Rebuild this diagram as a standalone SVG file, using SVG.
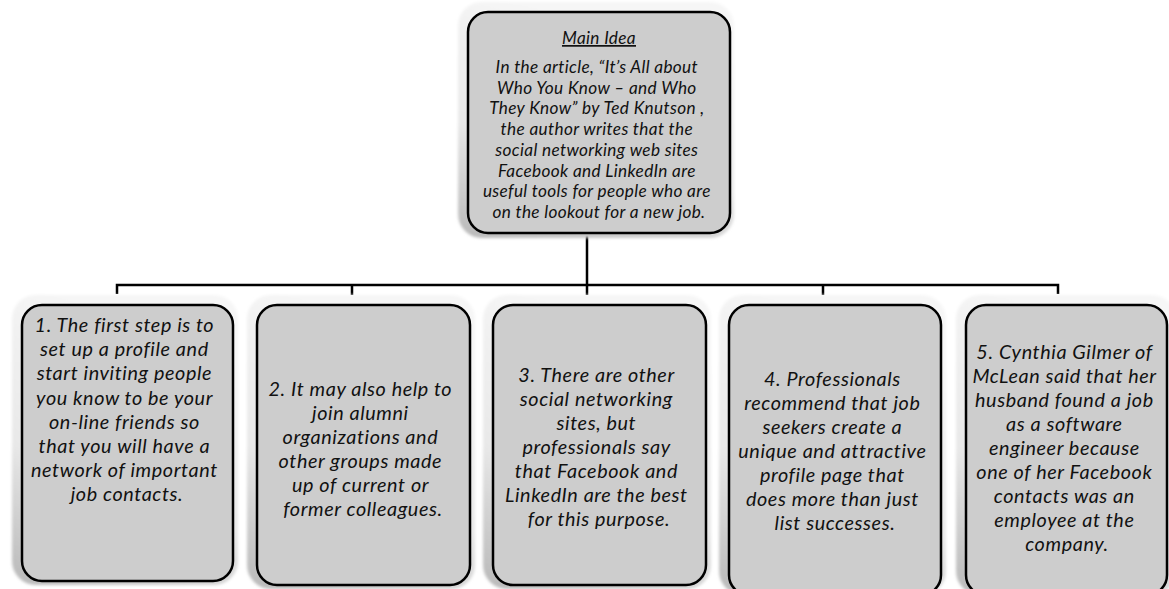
<svg xmlns="http://www.w3.org/2000/svg" width="1169" height="589" viewBox="0 0 1169 589">
  <style>
    .frame { fill: url(#frameGrad); filter: url(#soft); }
    .box { fill: #cdcdcd; stroke: #000; stroke-width: 2.5; }
    .txt { font-family: Lato, "Liberation Sans", sans-serif; font-style: italic; fill: #111; text-anchor: middle; }
    .main { font-size: 17.2px; letter-spacing: 0.35px; }
    .item { font-size: 19.8px; letter-spacing: 0.6px; }
    .wire { fill: none; stroke: #000; stroke-width: 2.5; }
  </style>
  <defs>
    <linearGradient id="frameGrad" x1="0.3" y1="0" x2="0" y2="1">
      <stop offset="0" stop-color="#f6f6f6"/>
      <stop offset="0.55" stop-color="#e8e8e8"/>
      <stop offset="1" stop-color="#b8b8b8"/>
    </linearGradient>
    <filter id="soft" x="-10%" y="-10%" width="120%" height="120%">
      <feGaussianBlur stdDeviation="1.5"/>
    </filter>
  </defs>
  <rect width="1169" height="589" fill="#fff"/>

  <!-- connectors -->
  <g id="connectors">
    <line x1="587" y1="222" x2="587" y2="233" stroke="#a8a8a8" stroke-width="2"/>
    <path class="wire" d="M587 233 V295 M117 294 V285 H1058 V294 M352 285 V295 M823 285 V295"/>
  </g>

  <!-- main idea -->
  <g id="main-idea">
    <rect class="frame" x="458" y="2" width="276" height="236" rx="24"/>
    <rect class="box" x="468" y="12" width="262" height="221" rx="20"/>
    <text class="txt main" x="599" y="44" text-decoration="underline">Main Idea</text>
    <text class="txt main">
      <tspan x="599" y="73">In the article, “It’s All about</tspan>
      <tspan x="599" y="94">Who You Know – and Who</tspan>
      <tspan x="599" y="114">They Know” by Ted Knutson ,</tspan>
      <tspan x="599" y="135">the author writes that the</tspan>
      <tspan x="599" y="156">social networking web sites</tspan>
      <tspan x="599" y="177">Facebook and LinkedIn are</tspan>
      <tspan x="599" y="197">useful tools for people who are</tspan>
      <tspan x="599" y="218">on the lookout for a new job.</tspan>
    </text>
  </g>

  <!-- detail 1 -->
  <g id="detail-1">
    <rect class="frame" x="12" y="295" width="226" height="290" rx="24"/>
    <rect class="box" x="22" y="305" width="211" height="276" rx="20"/>
    <text class="txt item">
      <tspan x="127" y="332">1. The first step is to</tspan>
      <tspan x="127" y="356">set up a profile and</tspan>
      <tspan x="127" y="380">start inviting people</tspan>
      <tspan x="127" y="405">you know to be your</tspan>
      <tspan x="127" y="429">on-line friends so</tspan>
      <tspan x="127" y="453">that you will have a</tspan>
      <tspan x="127" y="477">network of important</tspan>
      <tspan x="127" y="501">job contacts.</tspan>
    </text>
  </g>

  <!-- detail 2 -->
  <g id="detail-2">
    <rect class="frame" x="247" y="295" width="228" height="294" rx="24"/>
    <rect class="box" x="257" y="305" width="213" height="280" rx="20"/>
    <text class="txt item">
      <tspan x="363" y="396">2. It may also help to</tspan>
      <tspan x="363" y="420">join alumni</tspan>
      <tspan x="363" y="444">organizations and</tspan>
      <tspan x="363" y="468">other groups made</tspan>
      <tspan x="363" y="492">up of current or</tspan>
      <tspan x="363" y="516">former colleagues.</tspan>
    </text>
  </g>

  <!-- detail 3 -->
  <g id="detail-3">
    <rect class="frame" x="483" y="295" width="228" height="294" rx="24"/>
    <rect class="box" x="493" y="305" width="213" height="280" rx="20"/>
    <text class="txt item">
      <tspan x="599" y="382">3. There are other</tspan>
      <tspan x="599" y="406">social networking</tspan>
      <tspan x="599" y="430">sites, but</tspan>
      <tspan x="599" y="454">professionals say</tspan>
      <tspan x="599" y="478">that Facebook and</tspan>
      <tspan x="599" y="502">LinkedIn are the best</tspan>
      <tspan x="599" y="526">for this purpose.</tspan>
    </text>
  </g>

  <!-- detail 4 -->
  <g id="detail-4">
    <rect class="frame" x="719" y="295" width="227" height="300" rx="24"/>
    <rect class="box" x="729" y="305" width="212" height="290" rx="20"/>
    <text class="txt item">
      <tspan x="835" y="386">4. Professionals</tspan>
      <tspan x="835" y="410">recommend that job</tspan>
      <tspan x="835" y="434">seekers create a</tspan>
      <tspan x="835" y="458">unique and attractive</tspan>
      <tspan x="835" y="482">profile page that</tspan>
      <tspan x="835" y="506">does more than just</tspan>
      <tspan x="835" y="530">list successes.</tspan>
    </text>
  </g>

  <!-- detail 5 -->
  <g id="detail-5">
    <rect class="frame" x="956" y="295" width="220" height="300" rx="24"/>
    <rect class="box" x="966" y="305" width="201" height="290" rx="20"/>
    <text class="txt item">
      <tspan x="1067" y="359">5. Cynthia Gilmer of</tspan>
      <tspan x="1067" y="383">McLean said that her</tspan>
      <tspan x="1067" y="407">husband found a job</tspan>
      <tspan x="1067" y="431">as a software</tspan>
      <tspan x="1067" y="455">engineer because</tspan>
      <tspan x="1067" y="479">one of her Facebook</tspan>
      <tspan x="1067" y="503">contacts was an</tspan>
      <tspan x="1067" y="527">employee at the</tspan>
      <tspan x="1067" y="551">company.</tspan>
    </text>
  </g>
</svg>
